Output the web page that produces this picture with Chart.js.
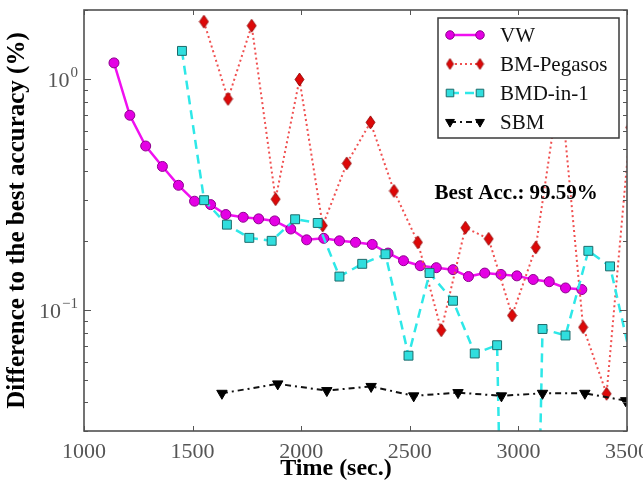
<!DOCTYPE html>
<html>
<head>
<meta charset="utf-8">
<script src="https://cdn.jsdelivr.net/npm/chart.js@4.4.0/dist/chart.umd.min.js"></script>
<style>
  html, body { margin: 0; padding: 0; background: #fff; }
  #wrap { width: 643px; height: 483px; position: relative; }
</style>
</head>
<body>
<div id="wrap"><canvas id="accChart"></canvas></div>
<script>
// VW
const vwTime = [1138, 1211, 1284, 1361, 1435, 1509, 1583, 1653, 1733, 1804, 1878, 1952, 2025, 2104, 2176,
                2250, 2327, 2400, 2471, 2548, 2622, 2699, 2770, 2845, 2920, 2993, 3068, 3142, 3217, 3292];
const vwDiff = [1.18, 0.70, 0.515, 0.42, 0.348, 0.297, 0.287, 0.26, 0.253, 0.249, 0.244, 0.225, 0.202, 0.205, 0.200,
                0.197, 0.193, 0.177, 0.164, 0.156, 0.153, 0.150, 0.140, 0.145, 0.143, 0.141, 0.136, 0.133, 0.125, 0.123];

// BM-Pegasos
const pegTime = [1552, 1663, 1772, 1882, 1992, 2099, 2210, 2319, 2427, 2537, 2645, 2756, 2863, 2971, 3080, 3192, 3298, 3406, 3515];
const pegDiff = [1.78, 0.824, 1.71, 0.303, 1.0, 0.233, 0.433, 0.652, 0.329, 0.197, 0.082, 0.228, 0.204, 0.095, 0.187, 0.97, 0.0845, 0.0435, 0.62];

// BMD-in-1 (the ~3005 run drops to ~0, off the bottom of the axis)
const bmdTime = [1451, 1553, 1658, 1761, 1864, 1972, 2076, 2176, 2281, 2388, 2494, 2591, 2699, 2799, 2902, 3005, 3111, 3217, 3322, 3422, 3527];
const bmdDiff = [1.33, 0.30, 0.235, 0.206, 0.200, 0.248, 0.239, 0.140, 0.159, 0.175, 0.0636, 0.145, 0.110, 0.065, 0.0706, 0.000001, 0.083, 0.0778, 0.181, 0.155, 0.057];

// SBM
const sbmTime = [1635, 1892, 2118, 2322, 2518, 2722, 2922, 3111, 3306, 3494];
const sbmDiff = [0.0437, 0.048, 0.0449, 0.0468, 0.0426, 0.044, 0.0426, 0.0437, 0.0437, 0.0406];

const xTicks = [1000, 1500, 2000, 2500, 3000, 3500];
const yDecades = [0.1, 1];
const yMin = 0.03, yMax = 2;

const xTitle = 'Time (sec.)';
const bestAccLabel = 'Best Acc.: 99.59%';
const bestAccAt = { x: 2990, y: 0.32 };

const serif = '"Liberation Serif", "DejaVu Serif", serif';

function pairs(xs, ys) { return xs.map((x, i) => ({ x: x, y: ys[i] })); }

// thin diamond marker like matplotlib's 'd'
function diamond(w, h) {
  const c = document.createElement('canvas');
  c.width = w + 2; c.height = h + 2;
  const g = c.getContext('2d');
  g.beginPath();
  g.moveTo(c.width / 2, 1);
  g.lineTo(c.width - 1, c.height / 2);
  g.lineTo(c.width / 2, c.height - 1);
  g.lineTo(1, c.height / 2);
  g.closePath();
  g.fillStyle = '#dd0808';
  g.fill();
  g.strokeStyle = '#8a0000';
  g.lineWidth = 0.8;
  g.stroke();
  return c;
}
const diamondMark = diamond(9, 13);
const diamondSmall = diamond(7, 11);

function minorTicks() {
  const out = [];
  for (let e = -2; e <= 0; e++) {
    for (let m = 1; m <= 9; m++) {
      const v = m * Math.pow(10, e);
      if (v >= yMin && v <= yMax) out.push(v);
    }
  }
  return out;
}

const framePlugin = {
  id: 'frame',
  afterDatasetsDraw(chart) {
    const { ctx, chartArea: a, scales: { x, y } } = chart;
    ctx.save();
    ctx.strokeStyle = '#555';
    ctx.lineWidth = 1;
    ctx.beginPath();
    xTicks.forEach(t => {
      const px = Math.round(x.getPixelForValue(t)) + 0.5;
      ctx.moveTo(px, a.bottom); ctx.lineTo(px, a.bottom - 5);
      ctx.moveTo(px, a.top); ctx.lineTo(px, a.top + 5);
    });
    minorTicks().forEach(v => {
      const py = Math.round(y.getPixelForValue(v)) + 0.5;
      const major = yDecades.some(d => Math.abs(d - v) < 1e-9);
      const len = major ? 7 : 4;
      ctx.moveTo(a.left, py); ctx.lineTo(a.left + len, py);
      ctx.moveTo(a.right, py); ctx.lineTo(a.right - len, py);
    });
    ctx.stroke();

    ctx.lineWidth = 1.6;
    ctx.strokeStyle = '#505050';
    ctx.strokeRect(a.left, a.top, a.right - a.left, a.bottom - a.top);

    // y tick labels 10^k
    ctx.fillStyle = '#555';
    ctx.textAlign = 'left';
    ctx.textBaseline = 'alphabetic';
    yDecades.forEach(d => {
      const py = y.getPixelForValue(d);
      const exp = Math.round(Math.log10(d));
      const sup = exp < 0 ? '\u2212' + Math.abs(exp) : String(exp);
      ctx.font = '15px ' + serif;
      const wSup = ctx.measureText(sup).width;
      ctx.font = '22px ' + serif;
      const wBase = ctx.measureText('10').width;
      const right = a.left - 6;
      ctx.fillText('10', right - wSup - wBase - 1, py + 8);
      ctx.font = '15px ' + serif;
      ctx.fillText(sup, right - wSup, py - 2);
    });

    // x axis title (sits a little left of the axis centre in the original)
    ctx.fillStyle = '#000';
    ctx.font = 'bold 24px ' + serif;
    ctx.textAlign = 'center';
    ctx.textBaseline = 'middle';
    ctx.fillText(xTitle, 336, 469);

    // annotation
    ctx.font = 'bold 21px ' + serif;
    ctx.fillText(bestAccLabel, x.getPixelForValue(bestAccAt.x), y.getPixelForValue(bestAccAt.y));
    ctx.restore();
  },
  afterDraw(chart) {
    // legend box, upper right
    const { ctx } = chart;
    const box = { left: 438, top: 18, w: 181, h: 120 };
    ctx.save();
    ctx.fillStyle = '#fff';
    ctx.fillRect(box.left, box.top, box.w, box.h);
    ctx.strokeStyle = '#3a3a3a';
    ctx.lineWidth = 1.5;
    ctx.strokeRect(box.left, box.top, box.w, box.h);
    chart.data.datasets.forEach((ds, i) => {
      const cy = 35 + i * 29;
      const x0 = 450, x1 = 480;
      ctx.save();
      ctx.strokeStyle = ds.borderColor;
      ctx.lineWidth = ds.borderWidth;
      ctx.setLineDash(ds.borderDash || []);
      ctx.beginPath(); ctx.moveTo(x0, cy); ctx.lineTo(x1, cy); ctx.stroke();
      ctx.restore();
      const mark = ds.legendMark || ds.pointStyle;
      [x0, x1].forEach(px => {
        ctx.save();
        ctx.fillStyle = ds.pointBackgroundColor;
        ctx.strokeStyle = ds.pointBorderColor;
        ctx.lineWidth = ds.pointBorderWidth;
        Chart.helpers.drawPoint(ctx, {
          pointStyle: mark,
          radius: ds.pointRadius * 0.85,
          rotation: ds.pointRotation || 0,
          borderWidth: ds.pointBorderWidth
        }, px, cy);
        ctx.restore();
      });
      ctx.fillStyle = '#111';
      ctx.font = '21px ' + serif;
      ctx.textAlign = 'left';
      ctx.textBaseline = 'middle';
      ctx.fillText(ds.label, 500, cy + 1);
    });
    ctx.restore();
  }
};

new Chart(document.getElementById('accChart').getContext('2d'), {
  type: 'line',
  data: {
    datasets: [{
      label: 'VW',
      data: pairs(vwTime, vwDiff),
      borderColor: '#f010f0',
      borderWidth: 2.5,
      pointStyle: 'circle',
      pointRadius: 5,
      pointBackgroundColor: '#e400e4',
      pointBorderColor: '#8c008c',
      pointBorderWidth: 1,
      order: 4
    }, {
      label: 'BM-Pegasos',
      data: pairs(pegTime, pegDiff),
      borderColor: '#f05050',
      borderWidth: 2,
      borderDash: [2, 3],
      pointStyle: diamondMark,
      legendMark: diamondSmall,
      pointRadius: 6,
      pointBackgroundColor: '#dd0808',
      pointBorderColor: '#8a0000',
      pointBorderWidth: 1,
      order: 3
    }, {
      label: 'BMD-in-1',
      data: pairs(bmdTime, bmdDiff),
      borderColor: '#2ee8e8',
      borderWidth: 2.5,
      borderDash: [9, 6],
      pointStyle: 'rect',
      pointRadius: 6.3,
      pointBackgroundColor: '#30dede',
      pointBorderColor: '#1d6b6b',
      pointBorderWidth: 1,
      order: 2
    }, {
      label: 'SBM',
      data: pairs(sbmTime, sbmDiff),
      borderColor: '#111',
      borderWidth: 2,
      borderDash: [6, 4, 2, 4],
      pointStyle: 'triangle',
      pointRotation: 180,
      pointRadius: 6,
      pointBackgroundColor: '#000',
      pointBorderColor: '#000',
      pointBorderWidth: 1,
      order: 1
    }]
  },
  options: {
    responsive: true,
    maintainAspectRatio: false,
    animation: false,
    clip: 0,
    layout: { padding: { top: 10, right: 16, left: 0, bottom: 0 } },
    elements: { line: { tension: 0 } },
    plugins: { legend: { display: false }, tooltip: { enabled: false } },
    scales: {
      x: {
        type: 'linear',
        min: 1000,
        max: 3500,
        grid: { display: false, drawTicks: false },
        border: { display: false },
        ticks: {
          stepSize: 500,
          autoSkip: false,
          maxRotation: 0,
          padding: 8,
          color: '#555',
          font: { family: serif, size: 22 },
          callback: v => String(v)
        },
        title: { display: false },
        afterFit(s) { s.height = 52; s.paddingLeft = 0; s.paddingRight = 0; }
      },
      y: {
        type: 'logarithmic',
        min: yMin,
        max: yMax,
        grid: { display: false, drawTicks: false },
        border: { display: false },
        ticks: { display: false },
        title: {
          display: true,
          text: 'Difference to the best accuracy (%)',
          color: '#000',
          font: { family: serif, size: 25, weight: 'bold' },
          padding: { top: 3, bottom: 0 }
        },
        afterFit(s) { s.width = 84; s.paddingTop = 0; s.paddingBottom = 0; }
      }
    }
  },
  plugins: [framePlugin]
});
</script>
</body>
</html>
